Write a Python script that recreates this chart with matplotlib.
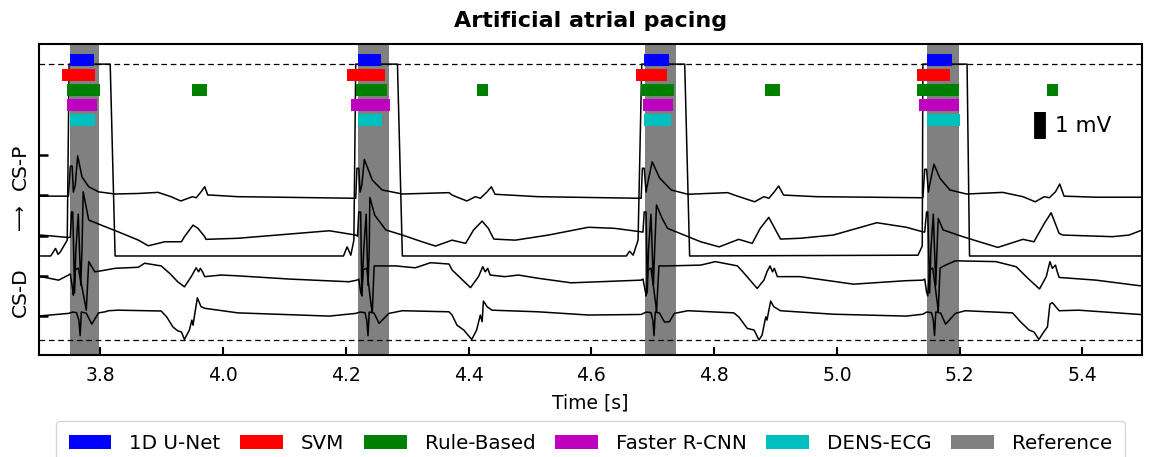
import matplotlib
matplotlib.use("Agg")
import matplotlib.pyplot as plt
from matplotlib.patches import Patch

# ---------------- data ----------------
title = "Artificial atrial pacing"
xlabel = "Time [s]"
ylabel_top = "CS-P"
ylabel_arrow = "\u27f6"
ylabel_bottom = "CS-D"
xticks = [3.8, 4.0, 4.2, 4.4, 4.6, 4.8, 5.0, 5.2, 5.4]
xtick_labels = ["3.8", "4.0", "4.2", "4.4", "4.6", "4.8", "5.0", "5.2", "5.4"]
channel_offsets = [7.5, 6.0, 4.5, 3.0, 1.5]   # mV offsets of the five channels
clip_levels = [10.89, 0.61]

# channel S (clipped / saturated channel, offset 7.5)
t_S = [3.703, 3.719, 3.727, 3.731, 3.735, 3.746, 3.749, 3.816, 3.824,
       4.196, 4.202, 4.208, 4.213, 4.216, 4.284, 4.292,
       4.657, 4.662, 4.668, 4.676, 4.682, 4.752, 4.760,
       5.132, 5.139, 5.140, 5.212, 5.216, 5.494]
v_S = [-3.76, -3.76, -3.48, -3.70, -3.60, -3.17, 3.39, 3.39, -3.76,
       -3.76, -3.42, -3.73, -3.17, 3.39, 3.39, -3.76,
       -3.76, -3.58, -3.73, -3.17, 3.39, 3.39, -3.76,
       -3.73, -3.39, 3.39, 3.39, -3.76, -3.76]

# channel A (offset 6.0)
t_A = [3.703, 3.748, 3.751, 3.754, 3.756, 3.759, 3.763, 3.770, 3.781, 3.797,
       3.824, 3.862, 3.894, 3.915, 3.931, 3.943, 3.950, 3.956, 3.964, 3.970,
       3.975, 3.980, 4.024, 4.124, 4.216,
       4.218, 4.221, 4.223, 4.226, 4.230, 4.243, 4.259, 4.292, 4.368, 4.373,
       4.397, 4.411, 4.419, 4.430, 4.437, 4.443, 4.513, 4.681,
       4.683, 4.686, 4.689, 4.691, 4.699, 4.711, 4.730, 4.757, 4.822, 4.838,
       4.866, 4.881, 4.889, 4.898, 4.905, 4.913, 4.967, 5.140,
       5.143, 5.146, 5.149, 5.151, 5.158, 5.168, 5.184, 5.211, 5.270, 5.303,
       5.323, 5.338, 5.346, 5.356, 5.363, 5.370, 5.422, 5.495]
v_A = [-0.03, -0.03, 1.09, 1.09, 0.12, 0.38, 1.47, 0.69, 0.32, 0.13,
       0.05, 0.07, 0.11, -0.05, -0.21, -0.11, -0.05, -0.09, 0.13, 0.32,
       0.01, 0.01, -0.05, -0.08, -0.11,
       1.01, 1.01, 0.12, 0.38, 1.34, 0.57, 0.20, 0.05, 0.10, 0.01,
       -0.21, -0.05, -0.11, 0.13, 0.32, 0.04, -0.05, -0.11,
       1.01, 1.01, 0.12, 0.38, 1.25, 0.65, 0.20, 0.04, 0.10, -0.03,
       -0.24, -0.05, -0.11, 0.13, 0.35, 0.01, -0.05, -0.09,
       0.97, 0.97, 0.12, 0.38, 1.16, 0.63, 0.20, 0.05, 0.11, -0.05,
       -0.24, -0.05, -0.09, 0.13, 0.42, -0.03, -0.07, -0.07]

# channel B (offset 4.5)
t_B = [3.703, 3.748, 3.751, 3.753, 3.755, 3.758, 3.760, 3.764, 3.768, 3.770,
       3.772, 3.781, 3.797, 3.829, 3.862, 3.878, 3.905, 3.932, 3.937, 3.951,
       3.959, 3.970, 3.972, 4.024, 4.173, 4.216,
       4.219, 4.221, 4.224, 4.226, 4.229, 4.233, 4.236, 4.238, 4.239, 4.247,
       4.265, 4.292, 4.324, 4.346, 4.373, 4.395, 4.408, 4.422, 4.432, 4.441,
       4.476, 4.530, 4.595, 4.638, 4.681,
       4.684, 4.686, 4.689, 4.691, 4.693, 4.697, 4.701, 4.703, 4.706, 4.715,
       4.724, 4.751, 4.778, 4.808, 4.840, 4.862, 4.875, 4.889, 4.900, 4.908,
       4.940, 4.994, 5.065, 5.113, 5.140,
       5.143, 5.146, 5.148, 5.151, 5.153, 5.157, 5.161, 5.163, 5.165, 5.173,
       5.205, 5.232, 5.262, 5.303, 5.321, 5.338, 5.349, 5.362, 5.368, 5.449,
       5.476, 5.494]
v_B = [0.02, -0.07, -0.06, 0.88, 0.88, -2.14, -0.54, 0.80, -1.85, -0.54,
       1.63, 0.58, 0.43, 0.14, -0.17, -0.38, -0.23, -0.23, -0.04, 0.39,
       0.27, -0.04, -0.14, -0.10, 0.18, 0.02,
       -0.02, 0.88, 0.88, -2.14, -0.54, 0.80, -1.85, -0.54, 1.42, 0.76,
       0.21, 0.02, -0.23, -0.39, -0.17, -0.29, 0.21, 0.54, 0.27, -0.13,
       -0.17, 0.02, 0.31, 0.27, 0.14,
       0.13, 0.88, 0.88, -2.14, -0.54, 0.80, -1.85, -0.54, 1.14, 0.65,
       0.27, 0.02, -0.23, -0.42, -0.14, -0.29, 0.27, 0.68, 0.21, -0.13,
       -0.10, 0.02, 0.48, 0.31, 0.14,
       0.13, 0.88, 0.88, -2.14, -0.54, 0.80, -1.85, -0.54, 0.64, 0.21,
       -0.04, -0.23, -0.44, -0.14, -0.23, 0.46, 0.85, 0.08, 0.02, -0.04,
       0.02, 0.18]

# channel C (offset 3.0)
t_C = [3.703, 3.732, 3.748, 3.751, 3.755, 3.756, 3.759, 3.764, 3.774, 3.777,
       3.781, 3.791, 3.802, 3.824, 3.862, 3.872, 3.899, 3.913, 3.926, 3.937,
       3.948, 3.956, 3.960, 3.963, 3.967, 3.970, 3.997, 4.024, 4.108, 4.205,
       4.218,
       4.221, 4.224, 4.226, 4.228, 4.234, 4.241, 4.243, 4.246, 4.281, 4.313,
       4.338, 4.368, 4.373, 4.403, 4.416, 4.423, 4.427, 4.431, 4.435, 4.459,
       4.481, 4.513, 4.567, 4.681,
       4.684, 4.688, 4.689, 4.692, 4.697, 4.705, 4.706, 4.710, 4.724, 4.778,
       4.802, 4.838, 4.849, 4.870, 4.881, 4.886, 4.891, 4.895, 4.898, 4.903,
       4.940, 5.027, 5.113, 5.140,
       5.143, 5.146, 5.148, 5.151, 5.156, 5.164, 5.165, 5.168, 5.177, 5.193,
       5.259, 5.292, 5.311, 5.330, 5.341, 5.347, 5.351, 5.356, 5.359, 5.362,
       5.422, 5.494]
v_C = [-0.03, -0.16, 0.03, 0.07, -0.53, -0.72, 0.22, 0.29, -0.90, -1.28,
       0.53, 0.15, 0.19, 0.28, 0.32, 0.47, 0.37, 0.09, -0.22, -0.41,
       -0.03, 0.30, 0.15, 0.28, 0.12, -0.03, 0.03, 0.00, -0.12, -0.22,
       -0.16,
       -0.12, -0.60, -0.75, 0.22, 0.29, -1.09, -1.35, 0.37, 0.37, 0.30,
       0.49, 0.44, 0.22, -0.44, -0.03, 0.34, 0.15, 0.28, 0.03, -0.03,
       0.03, -0.09, -0.26, -0.16,
       -0.12, -0.60, -0.75, 0.22, 0.29, -1.09, -1.35, 0.37, 0.37, 0.40,
       0.53, 0.37, 0.09, -0.47, -0.16, 0.15, 0.37, 0.15, 0.28, -0.03,
       -0.03, -0.31, -0.18, -0.16,
       -0.12, -0.60, -0.75, 0.22, 0.29, -1.09, -1.35, 0.29, 0.40, 0.56,
       0.53, 0.34, -0.09, -0.49, -0.03, 0.53, 0.28, 0.40, 0.15, -0.06,
       -0.16, -0.37]

# channel D (offset 1.5)
t_D = [3.703, 3.748, 3.755, 3.761, 3.765, 3.767, 3.769, 3.777, 3.786, 3.797,
       3.808, 3.813, 3.829, 3.899, 3.908, 3.918, 3.926, 3.932, 3.937, 3.945,
       3.949, 3.951, 3.953, 3.958, 3.964, 3.970, 4.024, 4.173, 4.216,
       4.223, 4.231, 4.234, 4.236, 4.238, 4.246, 4.254, 4.270, 4.292, 4.368,
       4.373, 4.381, 4.392, 4.405, 4.413, 4.419, 4.422, 4.424, 4.430, 4.438,
       4.513, 4.595, 4.681,
       4.689, 4.697, 4.700, 4.702, 4.704, 4.711, 4.719, 4.727, 4.735, 4.757,
       4.832, 4.840, 4.854, 4.865, 4.873, 4.878, 4.884, 4.886, 4.892, 4.897,
       4.908, 4.994, 5.113, 5.140,
       5.146, 5.154, 5.157, 5.159, 5.161, 5.169, 5.177, 5.193, 5.209, 5.286,
       5.299, 5.313, 5.321, 5.329, 5.337, 5.343, 5.347, 5.351, 5.362, 5.394,
       5.494]
v_D = [0.01, 0.10, 0.15, 0.13, -0.15, -0.73, 0.15, 0.11, -0.30, 0.12,
       0.16, 0.20, 0.22, 0.19, -0.03, -0.40, -0.55, -0.59, -0.87, -0.52,
       -0.15, -0.34, -0.03, 0.68, 0.35, 0.29, 0.12, 0.00, 0.10,
       0.15, 0.13, -0.15, -0.73, 0.15, 0.11, -0.27, 0.10, 0.20, 0.16,
       0.04, -0.34, -0.52, -0.87, -0.52, 0.04, -0.21, 0.56, 0.35, 0.22,
       0.16, 0.04, 0.06,
       0.15, 0.13, -0.15, -0.73, 0.15, 0.11, -0.22, -0.21, 0.10, 0.20,
       0.12, -0.03, -0.46, -0.52, -0.89, -0.71, -0.03, -0.15, 0.56, 0.35,
       0.20, 0.07, 0.00, 0.07,
       0.15, 0.13, -0.15, -0.73, 0.15, 0.11, -0.30, 0.10, 0.20, 0.12,
       -0.21, -0.52, -0.59, -0.87, -0.59, -0.40, 0.45, 0.50, 0.20, 0.22,
       0.06]

traces = [(t_S, v_S), (t_A, v_A), (t_B, v_B), (t_C, v_C), (t_D, v_D)]

# detections [start, end] in seconds
reference_spans = [(3.750, 3.797), (4.219, 4.270), (4.687, 4.737), (5.147, 5.199)]
unet_spans = [(3.751, 3.790), (4.220, 4.257), (4.686, 4.726), (5.147, 5.188)]
svm_spans = [(3.737, 3.791), (4.201, 4.263), (4.672, 4.723), (5.130, 5.184)]
rule_spans = [(3.745, 3.799), (3.950, 3.974), (4.216, 4.267), (4.413, 4.431),
              (4.680, 4.734), (4.883, 4.907), (5.131, 5.199), (5.342, 5.360)]
frcnn_spans = [(3.746, 3.794), (4.208, 4.272), (4.684, 4.733), (5.134, 5.199)]
dens_spans = [(3.750, 3.791), (4.219, 4.258), (4.686, 4.730), (5.146, 5.201)]

model_names = ["1D U-Net", "SVM", "Rule-Based", "Faster R-CNN", "DENS-ECG"]
model_spans = [unet_spans, svm_spans, rule_spans, frcnn_spans, dens_spans]
model_colors = ["#0000ff", "#ff0000", "#008000", "#bf00bf", "#00bfbf"]
reference_color = "#808080"
row_y = [11.04, 10.48, 9.92, 9.36, 8.81]

scale_bar_t = 5.3305
scale_bar_y = (8.10, 9.10)

# ---------------- plot ----------------
plt.rcParams['font.family'] = ['DejaVu Sans']
fig = plt.figure(figsize=(11.53, 4.57), dpi=100)
ax = fig.add_axes([39 / 1153, 1 - 355 / 457, (1142 - 39) / 1153, (355 - 44) / 457])

for s, e in reference_spans:
    ax.axvspan(s, e, color=reference_color, lw=0, zorder=1)

for lvl in clip_levels:
    ax.axhline(lvl, color='k', lw=0.9, ls=(0, (4.5, 3.0)), zorder=2)

for (t, v), off in zip(traces, channel_offsets):
    ax.plot(t, [off + x for x in v], color='k', lw=1.1, zorder=3)

for spans, color, y in zip(model_spans, model_colors, row_y):
    for s, e in spans:
        ax.barh(y, e - s, left=s, height=0.45, color=color, lw=0, zorder=4)

ax.plot([scale_bar_t, scale_bar_t], list(scale_bar_y), color='k', lw=8.5,
        solid_capstyle='butt', zorder=4)
ax.text(scale_bar_t + 0.0255, sum(scale_bar_y) / 2, "1 mV", fontsize=15.5,
        va='center', ha='left')

ax.set_xlim(3.7, 5.497)
ax.set_ylim(0.05, 11.64)
ax.set_xticks(xticks)
ax.set_xticklabels(xtick_labels, fontsize=13.5)
ax.set_yticks(channel_offsets)
ax.set_yticklabels([])
ax.tick_params(axis='x', direction='in', length=6, width=1.5, pad=8)
ax.tick_params(axis='y', direction='in', length=6.5, width=1.8)
for sp in ax.spines.values():
    sp.set_linewidth(1.5)

ax.set_xlabel(xlabel, fontsize=13.5, labelpad=6)
fig.text(20 / 1153, 1 - 167 / 457, ylabel_top, rotation=90, fontsize=14.5,
         ha='center', va='center')
fig.text(20 / 1153, 1 - 217.5 / 457, ylabel_arrow, rotation=90, fontsize=13,
         ha='center', va='center')
fig.text(20 / 1153, 1 - 292 / 457, ylabel_bottom, rotation=90, fontsize=14.5,
         ha='center', va='center')
ax.set_title(title, fontsize=16, fontweight='bold', pad=12)

handles = [Patch(facecolor=c, edgecolor='none', label=n)
           for n, c in zip(model_names, model_colors)]
handles.append(Patch(facecolor=reference_color, edgecolor='none', label="Reference"))
fig.legend(handles=handles, loc='upper center', bbox_to_anchor=(0.512, 1 - 421 / 457),
           ncol=6, fontsize=14.3, borderaxespad=0, handlelength=2.15,
           handletextpad=0.9, columnspacing=1.0, borderpad=0.65, frameon=True)

fig.savefig("out.png", dpi=100)
